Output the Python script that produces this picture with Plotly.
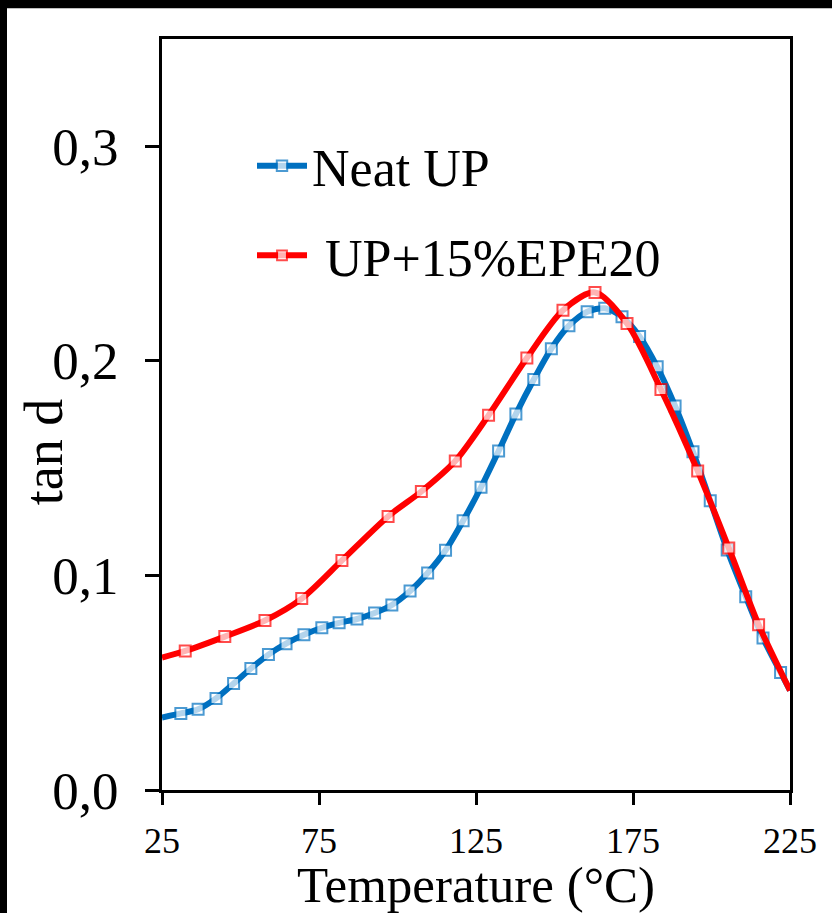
import plotly.graph_objects as go

# ---- data ----
neat_T = [25.0, 31.0, 36.5, 42.2, 47.8, 53.3, 58.9, 64.5, 70.2, 75.9, 81.4, 87.1,
          92.7, 98.2, 104.0, 109.6, 115.3, 120.9, 126.6, 132.2, 137.7, 143.4, 149.0,
          154.6, 160.4, 166.0, 171.5, 177.1, 182.7, 188.4, 194.1, 199.6, 205.0,
          210.9, 216.4, 222.0, 225.0]
neat_tan = [0.0338, 0.0357, 0.0376, 0.0427, 0.0496, 0.0566, 0.0631, 0.0682, 0.0723,
            0.0756, 0.0779, 0.0797, 0.0825, 0.0862, 0.0927, 0.1011, 0.1117, 0.1255,
            0.1411, 0.1580, 0.1752, 0.1913, 0.2057, 0.2164, 0.2229, 0.2245, 0.2205,
            0.2114, 0.1972, 0.1790, 0.1576, 0.1348, 0.1119, 0.0901, 0.0708, 0.0548,
            0.0464]

epe_T = [25.0, 32.4, 45.0, 57.8, 69.5, 82.3, 97.0, 107.6, 118.4, 129.0, 141.2,
         152.7, 162.9, 173.1, 183.9, 195.6, 205.5, 215.0, 225.0]
epe_tan = [0.0617, 0.0648, 0.0715, 0.0790, 0.0892, 0.1070, 0.1275, 0.1391, 0.1533,
           0.1746, 0.2013, 0.2236, 0.2319, 0.2174, 0.1867, 0.1487, 0.1128, 0.0770,
           0.0464]

x_ticks = [25, 75, 125, 175, 225]
y_ticks = [0.0, 0.1, 0.2, 0.3]
y_ticktext = ["0,0", "0,1", "0,2", "0,3"]

series_names = ["Neat UP", "\u00a0UP+15%EPE20"]
series_colors = ["#0070C0", "#FF0000"]

FONT = "Liberation Serif"

# plot area in pixels
W, H = 832, 913
L, R, T, B = 162, 42, 39, 118
PW, PH = W - L - R, H - T - B


def px_x(p):
    return (p - L) / PW


def px_y(p):
    return (H - B - p) / PH


def sizes(n, s):
    return [0] + [s] * (n - 2) + [0]


fig = go.Figure()
for name, xs, ys, col, grp in [
    (series_names[0], neat_T, neat_tan, series_colors[0], "a"),
    (series_names[1], epe_T, epe_tan, series_colors[1], "b"),
]:
    fig.add_trace(go.Scatter(
        x=xs, y=ys, name=name, mode="lines+markers", legendgroup=grp,
        line=dict(color=col, width=6, shape="spline", smoothing=0.8),
        marker=dict(symbol="square", size=sizes(len(xs), 11), color="white",
                    line=dict(color=col, width=2)),
        cliponaxis=True,
    ))

fig.update_layout(
    width=W, height=H,
    margin=dict(l=L, r=R, t=T, b=B, pad=0),
    paper_bgcolor="white", plot_bgcolor="white",
    font=dict(family=FONT, color="black"),
    showlegend=True,
    legend=dict(
        x=px_x(252), y=px_y(126), xanchor="left", yanchor="top",
        font=dict(family=FONT, size=52, color="black"),
        bgcolor="rgba(0,0,0,0)", borderwidth=0,
        itemwidth=50, tracegroupgap=19, traceorder="grouped",
    ),
    xaxis=dict(
        range=[25, 225], tickvals=x_ticks, ticktext=[str(v) for v in x_ticks],
        showgrid=False, zeroline=False,
        showline=True, linecolor="black", linewidth=3, mirror=True,
        ticks="outside", ticklen=12, tickwidth=3, tickcolor="black",
        tickfont=dict(family=FONT, size=36, color="black"),
        ticklabelstandoff=5,
        title=dict(text="Temperature (°C)", font=dict(family=FONT, size=51, color="black"),
                   standoff=4),
    ),
    yaxis=dict(
        range=[0, 0.35], tickvals=y_ticks, ticktext=y_ticktext,
        showgrid=False, zeroline=False,
        showline=True, linecolor="black", linewidth=3, mirror=True,
        ticks="outside", ticklen=14, tickwidth=3, tickcolor="black",
        tickfont=dict(family=FONT, size=53, color="black"),
        ticklabelstandoff=16,
    ),
    annotations=[dict(
        text="tan d", textangle=-90, xref="paper", yref="paper",
        x=px_x(44), y=px_y(455), xanchor="center", yanchor="middle",
        showarrow=False, font=dict(family=FONT, size=54, color="black"),
    )],
    shapes=[
        dict(type="rect", xref="paper", yref="paper", layer="above",
             x0=px_x(-20), x1=px_x(W + 20), y0=px_y(8), y1=px_y(-20),
             fillcolor="black", line=dict(width=0)),
        dict(type="rect", xref="paper", yref="paper", layer="above",
             x0=px_x(-20), x1=px_x(7), y0=px_y(H + 20), y1=px_y(-20),
             fillcolor="black", line=dict(width=0)),
    ],
)

fig.write_html("out.html")
